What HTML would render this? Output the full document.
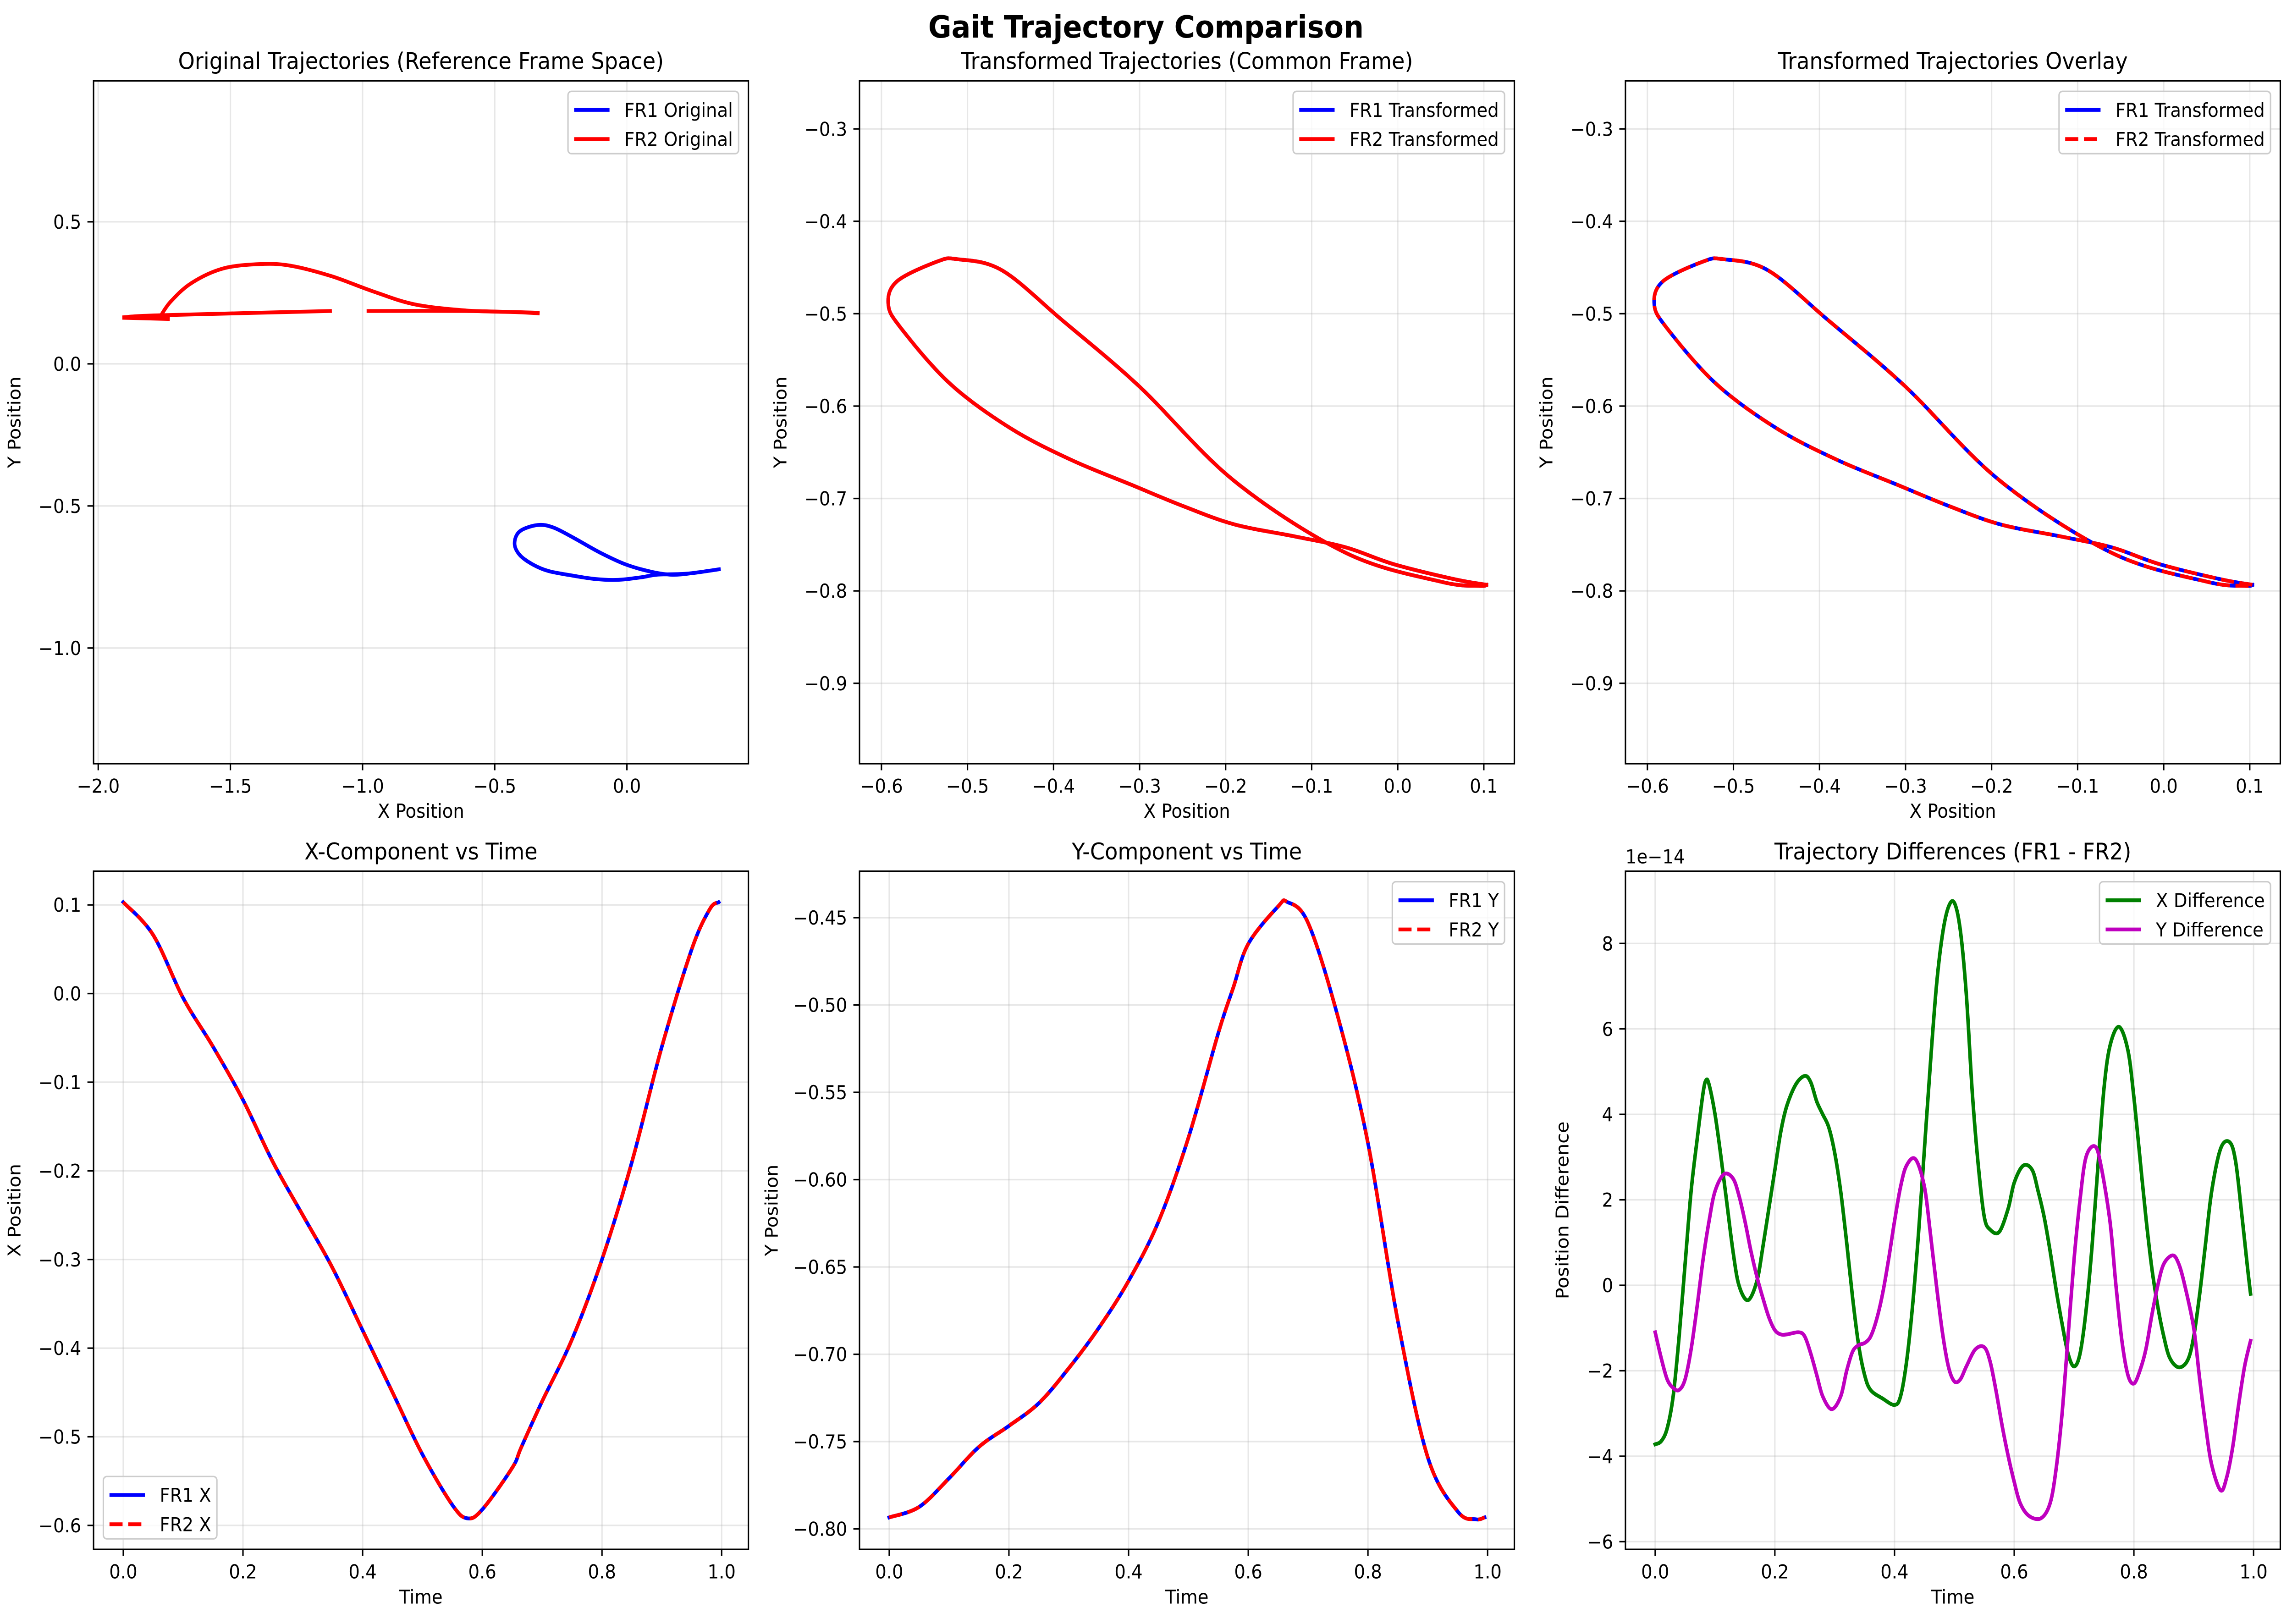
<!DOCTYPE html>
<html><head><meta charset="utf-8"><style>
html,body{margin:0;padding:0;background:#fff;width:100vw;height:100vh;overflow:hidden;}
svg{position:absolute;left:0;top:0;width:100vw;height:100vh;display:block;font-family:"DejaVu Sans","Liberation Sans",sans-serif;}
</style></head><body>
<svg id="fig" xmlns="http://www.w3.org/2000/svg" viewBox="0 0 1568 1034.55" preserveAspectRatio="none">
<rect width="1568" height="1034.55" fill="#fff"/>
<text x="784" y="24" text-anchor="middle" font-size="19.4" font-weight="bold">Gait Trajectory Comparison</text>
</svg>
<script>
// ---- data ----
const timeVals = [0,0.05,0.1,0.15,0.2,0.25,0.3,0.35,0.4,0.45,0.5,0.55,0.575,0.6,0.65,0.665,0.7,0.75,0.8,0.85,0.9,0.95,0.98,0.995];
const fr1X = [0.103,0.066,-0.005,-0.06,-0.12,-0.19,-0.25,-0.31,-0.38,-0.45,-0.52,-0.577,-0.592,-0.582,-0.535,-0.512,-0.46,-0.39,-0.30,-0.19,-0.06,0.05,0.095,0.103];
const fr1Y = [-0.7934,-0.7874,-0.771,-0.753,-0.741,-0.728,-0.708,-0.685,-0.658,-0.624,-0.576,-0.516,-0.49,-0.465,-0.4435,-0.441,-0.453,-0.507,-0.579,-0.681,-0.759,-0.790,-0.7945,-0.7934];
const fr2X = fr1X.slice();
const fr2Y = fr1Y.slice();
// original trajectories (reference frame)
const origFr1X = [0.348,0.25,0.172,0.094,-0.004,-0.102,-0.2,-0.278,-0.337,-0.405,-0.425,-0.405,-0.356,-0.297,-0.219,-0.121,-0.033,0.055,0.113,0.231,0.348];
const origFr1Y = [-0.723,-0.736,-0.742,-0.732,-0.706,-0.664,-0.613,-0.576,-0.567,-0.589,-0.632,-0.673,-0.706,-0.729,-0.743,-0.757,-0.760,-0.751,-0.742,-0.738,-0.723];
const origFr2ArcX = [-1.765,-1.726,-1.648,-1.530,-1.393,-1.276,-1.119,-0.963,-0.806,-0.611,-0.415,-0.337];
const origFr2ArcY = [0.167,0.219,0.284,0.335,0.351,0.346,0.309,0.256,0.210,0.188,0.182,0.178];
const origFr2LineAX = [-1.902,-1.765,-1.123];
const origFr2LineAY = [0.164,0.171,0.186];
const origFr2LineBX = [-0.978,-0.611,-0.337];
const origFr2LineBY = [0.186,0.186,0.180];
const origFr2HookX = [-1.902,-1.736];
const origFr2HookY = [0.162,0.158];
// differences (units of 1e-14)
const diffXT = [0,0.01,0.02,0.03,0.04,0.05,0.06,0.07,0.08,0.085,0.09,0.1,0.11,0.12,0.13,0.14,0.155,0.17,0.18,0.19,0.2,0.21,0.22,0.235,0.25,0.26,0.27,0.28,0.29,0.3,0.31,0.32,0.33,0.34,0.35,0.36,0.38,0.4,0.41,0.42,0.43,0.44,0.45,0.46,0.47,0.48,0.49,0.5,0.51,0.52,0.53,0.54,0.55,0.56,0.575,0.59,0.6,0.615,0.63,0.64,0.65,0.66,0.67,0.68,0.69,0.7,0.71,0.72,0.73,0.74,0.75,0.76,0.775,0.79,0.8,0.81,0.82,0.83,0.84,0.85,0.86,0.875,0.89,0.9,0.91,0.92,0.93,0.945,0.96,0.97,0.98,0.99,0.995];
const diffXV = [-3.72,-3.65,-3.35,-2.6,-1.2,0.5,2.2,3.4,4.5,4.8,4.7,4.0,3.0,1.9,0.8,0.0,-0.35,0.1,0.9,1.8,2.7,3.6,4.2,4.7,4.9,4.75,4.3,4.0,3.7,3.1,2.2,1.0,-0.3,-1.4,-2.1,-2.45,-2.65,-2.8,-2.6,-1.8,-0.5,1.2,3.2,5.2,7.0,8.2,8.85,8.95,8.3,6.8,4.5,2.8,1.6,1.3,1.25,1.8,2.4,2.8,2.7,2.2,1.6,0.8,-0.1,-0.9,-1.6,-1.9,-1.6,-0.6,0.9,2.8,4.6,5.6,6.05,5.5,4.4,3.0,1.6,0.4,-0.5,-1.2,-1.7,-1.92,-1.75,-1.2,-0.2,1.0,2.2,3.2,3.35,2.9,1.7,0.4,-0.2];
const diffYT = [0,0.01,0.02,0.03,0.04,0.05,0.06,0.07,0.08,0.09,0.1,0.115,0.13,0.14,0.15,0.16,0.17,0.18,0.19,0.2,0.21,0.22,0.24,0.25,0.26,0.27,0.28,0.295,0.31,0.32,0.33,0.34,0.35,0.36,0.37,0.38,0.39,0.4,0.41,0.42,0.435,0.45,0.46,0.47,0.48,0.49,0.5,0.51,0.52,0.535,0.55,0.56,0.57,0.58,0.59,0.6,0.61,0.625,0.645,0.66,0.67,0.68,0.69,0.7,0.71,0.72,0.735,0.745,0.76,0.77,0.78,0.79,0.8,0.81,0.82,0.83,0.84,0.85,0.865,0.875,0.885,0.9,0.91,0.92,0.93,0.945,0.955,0.965,0.975,0.985,0.995];
const diffYV = [-1.1,-1.7,-2.2,-2.4,-2.45,-2.2,-1.5,-0.5,0.6,1.5,2.2,2.6,2.5,2.1,1.5,0.8,0.2,-0.3,-0.75,-1.05,-1.15,-1.15,-1.1,-1.2,-1.6,-2.1,-2.6,-2.9,-2.6,-2.0,-1.55,-1.4,-1.35,-1.2,-0.8,-0.2,0.6,1.5,2.3,2.8,2.95,2.3,1.2,0.0,-1.1,-1.9,-2.25,-2.2,-1.9,-1.5,-1.45,-1.8,-2.5,-3.3,-4.0,-4.6,-5.1,-5.4,-5.45,-5.1,-4.3,-3.0,-1.2,0.6,2.0,3.0,3.25,2.8,1.5,0.0,-1.3,-2.1,-2.3,-2.0,-1.5,-0.7,0.0,0.5,0.7,0.5,0.0,-1.0,-2.2,-3.3,-4.2,-4.8,-4.5,-3.8,-2.8,-1.9,-1.3];
const ticksP1X = [-2,-1.5,-1,-0.5,0];
const ticksP1Y = [-1,-0.5,0,0.5];
const ticksP2X = [-0.6,-0.5,-0.4,-0.3,-0.2,-0.1,0,0.1];
const ticksP2Y = [-0.9,-0.8,-0.7,-0.6,-0.5,-0.4,-0.3];
const ticksTime = [0,0.2,0.4,0.6,0.8,1.0];
const ticksP4Y = [-0.6,-0.5,-0.4,-0.3,-0.2,-0.1,0,0.1];
const ticksP5Y = [-0.80,-0.75,-0.70,-0.65,-0.60,-0.55,-0.50,-0.45];
const ticksP6Y = [-6,-4,-2,0,2,4,6,8];

const NS = "http://www.w3.org/2000/svg";
const fig = document.getElementById('fig');
function mk(tag, attrs, parent){const e=document.createElementNS(NS,tag);for(const k in attrs)e.setAttribute(k,attrs[k]);(parent||fig).appendChild(e);return e;}
function fmt(v,d){let s=v.toFixed(d);if(Math.abs(v)<1e-9)s=(0).toFixed(d);return s.replace('-','\u2212');}
function smooth(pts){
  if(pts.length<3){return 'M'+pts.map(p=>p[0].toFixed(2)+','+p[1].toFixed(2)).join('L');}
  let d='M'+pts[0][0].toFixed(2)+','+pts[0][1].toFixed(2);
  for(let i=0;i<pts.length-1;i++){
    const p0=pts[Math.max(0,i-1)],p1=pts[i],p2=pts[i+1],p3=pts[Math.min(pts.length-1,i+2)];
    const c1=[p1[0]+(p2[0]-p0[0])/6,p1[1]+(p2[1]-p0[1])/6];
    const c2=[p2[0]-(p3[0]-p1[0])/6,p2[1]-(p3[1]-p1[1])/6];
    d+='C'+c1[0].toFixed(2)+','+c1[1].toFixed(2)+' '+c2[0].toFixed(2)+','+c2[1].toFixed(2)+' '+p2[0].toFixed(2)+','+p2[1].toFixed(2);
  }
  return d;
}
function panel(cfg){
  const [L,T,W,H]=cfg.box;
  const g=mk('g',{});
  
  
  const sx=v=>L+(v-cfg.xlim[0])/(cfg.xlim[1]-cfg.xlim[0])*W;
  const sy=v=>T+H-(v-cfg.ylim[0])/(cfg.ylim[1]-cfg.ylim[0])*H;
  const clipId='clip-'+cfg.name;
  const cp=mk('clipPath',{id:clipId},g);mk('rect',{x:L,y:T,width:W,height:H},cp);
  cfg.xt.forEach(v=>{const l=mk('line',{x1:sx(v),x2:sx(v),y1:T,y2:T+H,stroke:'#b0b0b0','stroke-opacity':0.3,'stroke-width':0.97},g);
    
    });
  cfg.yt.forEach(v=>{const l=mk('line',{x1:L,x2:L+W,y1:sy(v),y2:sy(v),stroke:'#b0b0b0','stroke-opacity':0.3,'stroke-width':0.97},g);
    
    });
  const sg=mk('g',{'clip-path':'url(#'+clipId+')'},g);
  cfg.series.forEach(s=>{
    s.segs.forEach(seg=>{
      const pts=seg[0].map((x,i)=>[sx(x),sy(seg[1][i])]);
      const attrs={d:smooth(pts),fill:'none',stroke:s.color,'stroke-width':2.42,'stroke-linejoin':'round','stroke-linecap':s.dash?'butt':'square'};
      if(s.dash)attrs['stroke-dasharray']='8.96,3.87';
      const p=mk('path',attrs,sg);
      
      
    });
  });
  const fr=mk('rect',{x:L,y:T,width:W,height:H,fill:'none',stroke:'#000','stroke-width':0.97},g);
  
  
  cfg.xt.forEach(v=>{
    mk('line',{x1:sx(v),x2:sx(v),y1:T+H,y2:T+H+4.2,stroke:'#000','stroke-width':0.97},g);
    const t=mk('text',{x:sx(v),y:T+H+18.5,'text-anchor':'middle','font-size':12.1},g);
    
    
    t.textContent=fmt(v,cfg.xd);
  });
  cfg.yt.forEach(v=>{
    mk('line',{x1:L-4.2,x2:L,y1:sy(v),y2:sy(v),stroke:'#000','stroke-width':0.97},g);
    const t=mk('text',{x:L-8.4,y:sy(v)+4.4,'text-anchor':'end','font-size':12.1},g);
    
    
    t.textContent=fmt(v,cfg.yd);
  });
  const ti=mk('text',{x:L+W/2,y:T-7.5,'text-anchor':'middle','font-size':14.5},g);
  
  
  ti.textContent=cfg.title;
  const xl=mk('text',{x:L+W/2,y:T+H+34.5,'text-anchor':'middle','font-size':12.1},g);
  
  
  xl.textContent=cfg.xlabel;
  const yx=L-cfg.ylOff, yy=T+H/2;
  const yl=mk('text',{x:yx,y:yy,'text-anchor':'middle','font-size':12.1,transform:'rotate(-90 '+yx+' '+yy+')'},g);
  
  
  yl.textContent=cfg.ylabel;
  if(cfg.offset){
    const o=mk('text',{x:L,y:T-5,'font-size':12.1},g);
    
    
    o.textContent=cfg.offset;
  }
  const lg=mk('g',{},g);
  
  
  const box=mk('rect',{rx:2.4,fill:'#fff','fill-opacity':0.8,stroke:'#cccccc','stroke-width':0.97},lg);
  const texts=[];
  cfg.series.forEach((s,i)=>{
    const t=mk('text',{x:0,y:0,'font-size':12.1},lg);
    
    
    t.textContent=s.label;texts.push(t);
  });
  const tw=Math.max(...texts.map(t=>t.getComputedTextLength()));
  const bw=tw+42.5, bh=39.7;
  const bx=cfg.legend==='ll'?L+6.7:L+W-6.7-bw;
  const by=cfg.legend==='ll'?T+H-6.7-bh:T+6.7;
  box.setAttribute('x',bx);box.setAttribute('y',by);box.setAttribute('width',bw);box.setAttribute('height',bh);
  cfg.series.forEach((s,i)=>{
    const ry=by+11.8+i*18.6;
    const a={x1:bx+4.2,x2:bx+28.4,y1:ry,y2:ry,stroke:s.color,'stroke-width':2.42};
    if(s.dash)a['stroke-dasharray']='8.96,3.87';
    mk('line',a,lg);
    texts[i].setAttribute('x',bx+38.6);texts[i].setAttribute('y',ry+4.4);
  });
}
const tX=[-0.0497,1.0447];
panel({name:'original-trajectories-panel',box:[64,51.5,448,435],xlim:[-2.0177,0.4596],ylim:[-1.407,0.996],xt:ticksP1X,yt:ticksP1Y,xd:1,yd:1,
  title:'Original Trajectories (Reference Frame Space)',xlabel:'X Position',ylabel:'Y Position',ylOff:50,legend:'ur',
  series:[{id:'fr1-original-line',label:'FR1 Original',color:'#0000ff',segs:[[origFr1X,origFr1Y]]},
          {id:'fr2-original-line',label:'FR2 Original',color:'#ff0000',segs:[[origFr2ArcX,origFr2ArcY],[origFr2LineAX,origFr2LineAY],[origFr2LineBX,origFr2LineBY],[origFr2HookX,origFr2HookY]]}]});
panel({name:'transformed-trajectories-panel',box:[588,51.5,448,435],xlim:[-0.6255,0.1355],ylim:[-0.987,-0.248],xt:ticksP2X,yt:ticksP2Y,xd:1,yd:1,
  title:'Transformed Trajectories (Common Frame)',xlabel:'X Position',ylabel:'Y Position',ylOff:50,legend:'ur',
  series:[{id:'fr1-transformed-line',label:'FR1 Transformed',color:'#0000ff',segs:[[fr1X,fr1Y]]},
          {id:'fr2-transformed-line',label:'FR2 Transformed',color:'#ff0000',segs:[[fr2X,fr2Y]]}]});
panel({name:'overlay-panel',box:[1112,51.5,448,435],xlim:[-0.6255,0.1355],ylim:[-0.987,-0.248],xt:ticksP2X,yt:ticksP2Y,xd:1,yd:1,
  title:'Transformed Trajectories Overlay',xlabel:'X Position',ylabel:'Y Position',ylOff:50,legend:'ur',
  series:[{id:'fr1-overlay-line',label:'FR1 Transformed',color:'#0000ff',segs:[[fr1X,fr1Y]]},
          {id:'fr2-overlay-line',label:'FR2 Transformed',color:'#ff0000',dash:true,segs:[[fr2X,fr2Y]]}]});
panel({name:'x-component-panel',box:[64,555,448,432],xlim:tX,ylim:[-0.627,0.138],xt:ticksTime,yt:ticksP4Y,xd:1,yd:1,
  title:'X-Component vs Time',xlabel:'Time',ylabel:'X Position',ylOff:50,legend:'ll',
  series:[{id:'fr1-x-line',label:'FR1 X',color:'#0000ff',segs:[[timeVals,fr1X]]},
          {id:'fr2-x-line',label:'FR2 X',color:'#ff0000',dash:true,segs:[[timeVals,fr2X]]}]});
panel({name:'y-component-panel',box:[588,555,448,432],xlim:tX,ylim:[-0.8117,-0.4234],xt:ticksTime,yt:ticksP5Y,xd:1,yd:2,
  title:'Y-Component vs Time',xlabel:'Time',ylabel:'Y Position',ylOff:56,legend:'ur',
  series:[{id:'fr1-y-line',label:'FR1 Y',color:'#0000ff',segs:[[timeVals,fr1Y]]},
          {id:'fr2-y-line',label:'FR2 Y',color:'#ff0000',dash:true,segs:[[timeVals,fr2Y]]}]});
panel({name:'differences-panel',box:[1112,555,448,432],xlim:tX,ylim:[-6.18,9.69],xt:ticksTime,yt:ticksP6Y,xd:1,yd:0,
  title:'Trajectory Differences (FR1 - FR2)',xlabel:'Time',ylabel:'Position Difference',ylOff:39,legend:'ur',offset:'1e\u221214',
  series:[{id:'x-difference-line',label:'X Difference',color:'#008000',segs:[[diffXT,diffXV]]},
          {id:'y-difference-line',label:'Y Difference',color:'#bf00bf',segs:[[diffYT,diffYV]]}]});
</script>
</body></html>
